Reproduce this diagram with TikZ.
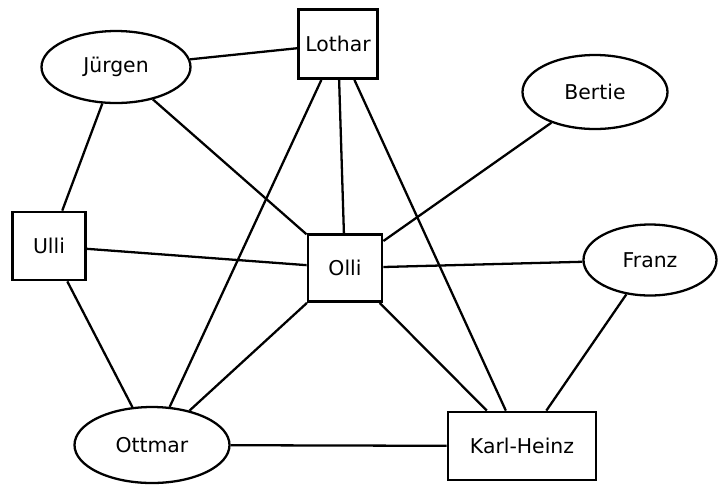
\documentclass[tikz,border=0pt]{standalone}
\usepackage{fontspec}
\setmainfont{DejaVu Sans}
\usetikzlibrary{shapes.geometric}

\tikzset{
  person/.style={draw, ellipse, line width=1.3pt, inner sep=0pt},
  chef/.style={draw, rectangle, line width=1.6pt, inner sep=0pt},
  link/.style={line width=1.3pt}
}

\begin{document}
\begin{tikzpicture}[x=0.02cm, y=-0.02cm, font=\fontsize{11.6}{13}\selectfont]
  \useasboundingbox (0,0) rectangle (718,485);
  % Ellipsen
  \node[person, minimum width=149*0.02cm, minimum height=72*0.02cm] (juergen) at (116,67) {Jürgen};
  \node[person, minimum width=145*0.02cm, minimum height=74*0.02cm] (bertie) at (595,92) {Bertie};
  \node[person, minimum width=133*0.02cm, minimum height=71*0.02cm] (franz) at (650,260) {Franz};
  \node[person, minimum width=155*0.02cm, minimum height=76*0.02cm] (ottmar) at (152,445) {Ottmar};
  % Rechtecke
  \node[chef, minimum width=79*0.02cm, minimum height=69*0.02cm] (lothar) at (338,44) {Lothar};
  \node[chef, minimum width=73*0.02cm, minimum height=68*0.02cm] (ulli) at (49,246) {Ulli};
  \node[chef, minimum width=74*0.02cm, minimum height=67*0.02cm] (olli) at (345,268) {Olli};
  \node[chef, minimum width=148*0.02cm, minimum height=68*0.02cm] (karlheinz) at (522,446) {Karl-Heinz};
  % Kanten
  \foreach \a/\b in {juergen/lothar, juergen/ulli, juergen/olli, lothar/olli,
                     lothar/ottmar, lothar/karlheinz, bertie/olli, ulli/olli,
                     ulli/ottmar, olli/franz, olli/ottmar, olli/karlheinz,
                     franz/karlheinz, ottmar/karlheinz}{
    \draw[link] (\a) -- (\b);
  }
\end{tikzpicture}
\end{document}
